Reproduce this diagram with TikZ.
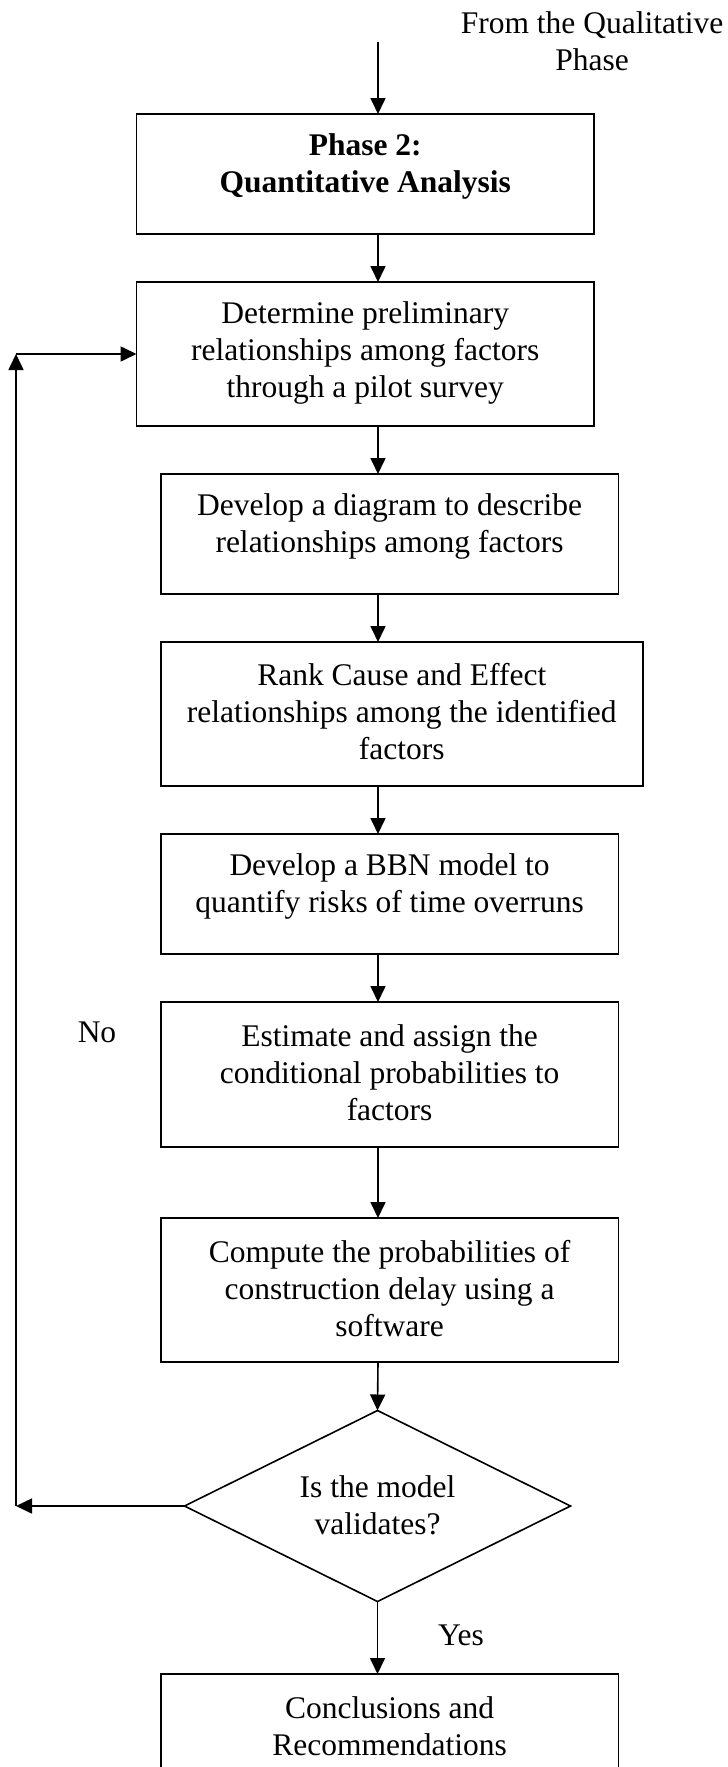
\documentclass[tikz,border=0pt]{standalone}
\usepackage{fontspec}
\setmainfont{Liberation Serif}
\usetikzlibrary{arrows.meta,shapes.geometric}

\begin{document}
\begin{tikzpicture}[x=1pt,y=-1pt,
  box/.style={draw,line width=1.6pt,rectangle,inner sep=0pt,outer sep=0pt},
  decision/.style={draw,line width=1.6pt,diamond,inner sep=0pt,outer sep=0pt},
  txt/.style={align=center,inner sep=0pt,font=\fontsize{31.5}{37}\selectfont},
  arr/.style={line width=1.6pt,-{Triangle[length=16pt,width=15pt]}}]

\useasboundingbox (0,0) rectangle (728,1767);
\clip (0,0) rectangle (728,1767);

% flow column and loose ends
\coordinate (col) at (378,0);
\coordinate (src) at (378,42);
\coordinate (fbBottom) at (16,1506);
\coordinate (fbTop) at (16,354);

% boxes
\node[box,minimum width=457.5pt,minimum height=120pt] (b1) at (365.25,174) {};
\node[box,minimum width=457.5pt,minimum height=144pt] (b2) at (365.25,354) {};
\node[box,minimum width=457.8pt,minimum height=120pt] (b3) at (389.6,534) {};
\node[box,minimum width=482pt,minimum height=144pt] (b4) at (401.75,714) {};
\node[box,minimum width=457.8pt,minimum height=120pt] (b5) at (389.6,894) {};
\node[box,minimum width=457.8pt,minimum height=145pt] (b6) at (389.6,1074.5) {};
\node[box,minimum width=457.8pt,minimum height=144pt] (b7) at (389.6,1290) {};
\node[decision,minimum width=386pt,minimum height=191pt] (dm) at (377.5,1506) {};
\node[box,minimum width=457.8pt,minimum height=140pt] (b8) at (389.6,1744) {};

% box texts
\node[txt] (src text) at (592,41) {From the Qualitative\\Phase};
\node[txt,font=\fontsize{31.5}{37}\selectfont\bfseries] (t1) at (365.25,166) {Phase 2:\\Quantitative Analysis};
\node[txt] (t2) at (365.25,353) {Determine preliminary\\relationships among factors\\through a pilot survey};
\node[txt] (t3) at (389.6,526) {Develop a diagram to describe\\relationships among factors};
\node[txt] (t4) at (401.75,712) {Rank Cause and Effect\\relationships among the identified\\factors};
\node[txt] (t5) at (389.6,886) {Develop a BBN model to\\quantify risks of time overruns};
\node[txt] (t6) at (389.6,1073) {Estimate and assign the\\conditional probabilities to\\factors};
\node[txt] (t7) at (389.6,1289) {Compute the probabilities of\\construction delay using a\\software};
\node[txt] (tdm) at (377.5,1505) {Is the model\\validates?};
\node[txt] (t8) at (389.6,1726) {Conclusions and\\Recommendations};

% branch labels
\node[txt] (no) at (97,1032) {No};
\node[txt] (yes) at (461,1635) {Yes};

% main flow
\draw[arr] (src) -- (b1.north -| col);
\draw[arr] (b1.south -| col) -- (b2.north -| col);
\draw[arr] (b2.south -| col) -- (b3.north -| col);
\draw[arr] (b3.south -| col) -- (b4.north -| col);
\draw[arr] (b4.south -| col) -- (b5.north -| col);
\draw[arr] (b5.south -| col) -- (b6.north -| col);
\draw[arr] (b6.south -| col) -- (b7.north -| col);
\draw[arr] (b7.south -| col) -- (dm.north);
\draw[arr] (dm.south) -- (b8.north -| dm.south);

% feedback loop
\draw[arr] (dm.west) -- (fbBottom);
\draw[arr] (fbBottom) -- (fbTop);
\draw[arr] (fbTop) -- (b2.west);
\end{tikzpicture}
\end{document}
